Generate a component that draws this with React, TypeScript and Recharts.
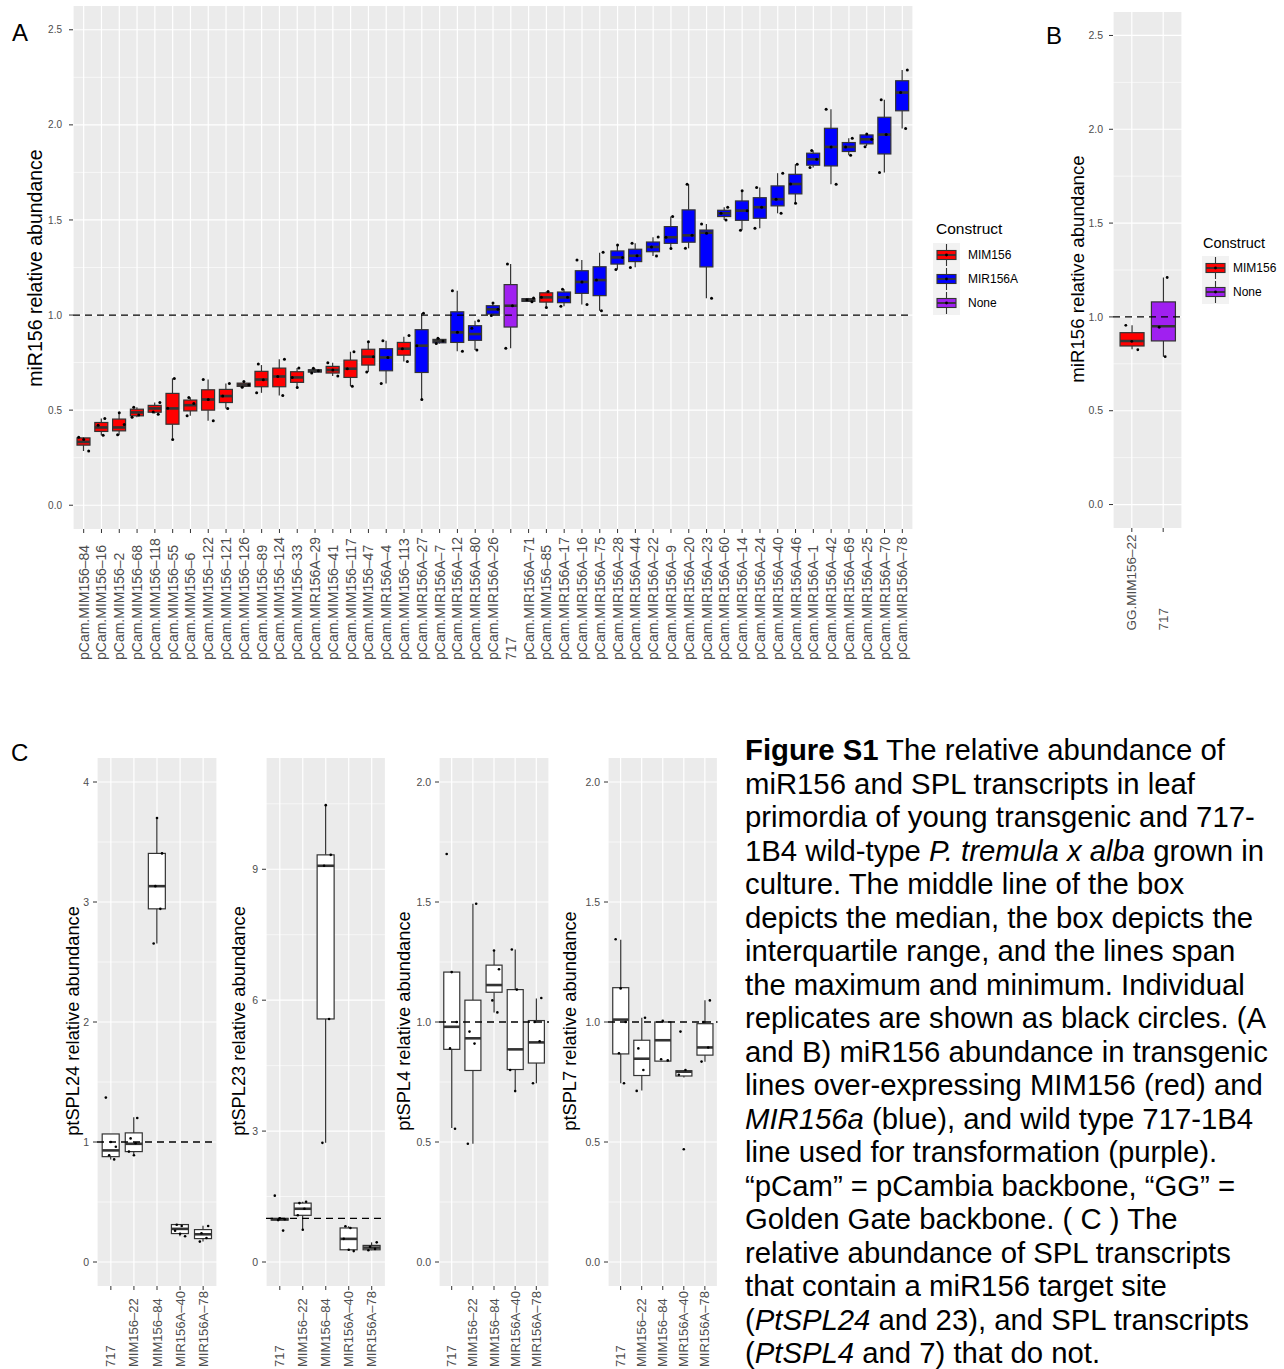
import React from 'react';
import { ComposedChart, Bar, Scatter, XAxis, YAxis, CartesianGrid, ReferenceLine } from 'recharts';

const FONT = '"Liberation Sans", Arial, Helvetica, sans-serif';

// ---------------- Panel A ----------------
const aNames = [
  'pCam.MIM156–84', 'pCam.MIM156–16', 'pCam.MIM156–2', 'pCam.MIM156–68', 'pCam.MIM156–118',
  'pCam.MIM156–55', 'pCam.MIM156–6', 'pCam.MIM156–122', 'pCam.MIM156–121', 'pCam.MIM156–126',
  'pCam.MIM156–89', 'pCam.MIM156–124', 'pCam.MIM156–33', 'pCam.MIR156A–29', 'pCam.MIM156–41',
  'pCam.MIM156–117', 'pCam.MIM156–47', 'pCam.MIR156A–4', 'pCam.MIM156–113', 'pCam.MIR156A–27',
  'pCam.MIR156A–7', 'pCam.MIR156A–12', 'pCam.MIR156A–80', 'pCam.MIR156A–26', '717',
  'pCam.MIR156A–71', 'pCam.MIM156–85', 'pCam.MIR156A–17', 'pCam.MIR156A–16', 'pCam.MIR156A–75',
  'pCam.MIR156A–28', 'pCam.MIR156A–44', 'pCam.MIR156A–22', 'pCam.MIR156A–9', 'pCam.MIR156A–20',
  'pCam.MIR156A–23', 'pCam.MIR156A–60', 'pCam.MIR156A–14', 'pCam.MIR156A–24', 'pCam.MIR156A–40',
  'pCam.MIR156A–46', 'pCam.MIR156A–1', 'pCam.MIR156A–42', 'pCam.MIR156A–69', 'pCam.MIR156A–25',
  'pCam.MIR156A–70', 'pCam.MIR156A–78',
];
const aGroups = [
  'MIM156', 'MIM156', 'MIM156', 'MIM156', 'MIM156', 'MIM156', 'MIM156', 'MIM156', 'MIM156', 'MIM156',
  'MIM156', 'MIM156', 'MIM156', 'MIR156A', 'MIM156', 'MIM156', 'MIM156', 'MIR156A', 'MIM156', 'MIR156A',
  'MIR156A', 'MIR156A', 'MIR156A', 'MIR156A', 'None', 'MIR156A', 'MIM156', 'MIR156A', 'MIR156A', 'MIR156A',
  'MIR156A', 'MIR156A', 'MIR156A', 'MIR156A', 'MIR156A', 'MIR156A', 'MIR156A', 'MIR156A', 'MIR156A', 'MIR156A',
  'MIR156A', 'MIR156A', 'MIR156A', 'MIR156A', 'MIR156A', 'MIR156A', 'MIR156A',
];
const aLow = [
  0.285, 0.368, 0.368, 0.462, 0.482, 0.351, 0.47, 0.444, 0.509, 0.62,
  0.591, 0.577, 0.619, 0.695, 0.68, 0.626, 0.70, 0.64, 0.756, 0.556,
  0.85, 0.81, 0.816, 0.998, 0.825, 1.07, 1.04, 1.046, 1.056, 1.023,
  1.24, 1.251, 1.31, 1.351, 1.351, 1.088, 1.5, 1.446, 1.456, 1.535,
  1.588, 1.776, 1.688, 1.84, 1.889, 1.749, 1.981,
];
const aQ1 = [
  0.316, 0.388, 0.391, 0.47, 0.489, 0.426, 0.496, 0.5, 0.54, 0.625,
  0.623, 0.623, 0.646, 0.70, 0.695, 0.672, 0.737, 0.707, 0.789, 0.698,
  0.854, 0.856, 0.867, 1.005, 0.937, 1.072, 1.068, 1.065, 1.114, 1.102,
  1.268, 1.281, 1.333, 1.377, 1.383, 1.253, 1.518, 1.498, 1.509, 1.574,
  1.637, 1.788, 1.784, 1.86, 1.90, 1.847, 2.074,
];
const aMed = [
  0.333, 0.409, 0.409, 0.488, 0.509, 0.509, 0.526, 0.556, 0.574, 0.634,
  0.661, 0.677, 0.672, 0.707, 0.711, 0.718, 0.781, 0.777, 0.823, 0.839,
  0.863, 0.909, 0.90, 1.03, 1.049, 1.08, 1.093, 1.093, 1.174, 1.184,
  1.303, 1.312, 1.358, 1.409, 1.419, 1.433, 1.535, 1.549, 1.567, 1.609,
  1.689, 1.819, 1.884, 1.884, 1.924, 1.949, 2.17,
];
const aQ3 = [
  0.354, 0.435, 0.453, 0.505, 0.525, 0.588, 0.553, 0.607, 0.609, 0.642,
  0.704, 0.721, 0.702, 0.712, 0.73, 0.763, 0.82, 0.823, 0.856, 0.923,
  0.872, 1.017, 0.944, 1.049, 1.16, 1.086, 1.117, 1.121, 1.233, 1.254,
  1.337, 1.346, 1.384, 1.465, 1.553, 1.447, 1.551, 1.60, 1.617, 1.679,
  1.74, 1.851, 1.982, 1.907, 1.947, 2.04, 2.232,
];
const aHigh = [
  0.358, 0.456, 0.486, 0.515, 0.54, 0.667, 0.567, 0.661, 0.64, 0.65,
  0.737, 0.768, 0.722, 0.72, 0.749, 0.807, 0.86, 0.865, 0.886, 1.009,
  0.878, 1.128, 0.97, 1.063, 1.268, 1.09, 1.124, 1.135, 1.289, 1.328,
  1.368, 1.377, 1.409, 1.518, 1.688, 1.479, 1.567, 1.653, 1.67, 1.746,
  1.793, 1.865, 2.082, 1.93, 1.952, 2.132, 2.289,
];
const aPoints = [
  [0.358, 0.345, 0.285], [0.456, 0.42, 0.368], [0.486, 0.425, 0.37], [0.515, 0.475, 0.462], [0.54, 0.49, 0.478],
  [0.667, 0.51, 0.345], [0.567, 0.535, 0.47], [0.661, 0.556, 0.444], [0.64, 0.574, 0.509], [0.65, 0.634, 0.62],
  [0.742, 0.66, 0.591], [0.768, 0.677, 0.577], [0.722, 0.672, 0.619], [0.72, 0.707, 0.695], [0.749, 0.711, 0.68],
  [0.807, 0.718, 0.626], [0.86, 0.781, 0.70], [0.865, 0.777, 0.64], [0.893, 0.823, 0.756], [1.009, 0.839, 0.556],
  [0.878, 0.863, 0.85], [1.128, 0.909, 0.81], [0.97, 0.93, 0.816], [1.063, 1.03, 0.998], [1.268, 1.049, 0.825],
  [1.09, 1.08, 1.07], [1.124, 1.093, 1.04], [1.135, 1.093, 1.046], [1.289, 1.174, 1.056], [1.33, 1.184, 1.023],
  [1.368, 1.303, 1.24], [1.377, 1.312, 1.25], [1.41, 1.358, 1.31], [1.518, 1.409, 1.35], [1.688, 1.419, 1.351],
  [1.479, 1.43, 1.088], [1.567, 1.535, 1.5], [1.653, 1.549, 1.446], [1.67, 1.567, 1.456], [1.746, 1.609, 1.535],
  [1.793, 1.689, 1.588], [1.865, 1.819, 1.776], [2.082, 1.884, 1.688], [1.93, 1.884, 1.84], [1.952, 1.924, 1.885],
  [2.132, 1.949, 1.749], [2.289, 2.17, 1.981],
];

// ---------------- Panel B ----------------
const bNames = ['GG.MIM156–22', '717'];
const bGroups = ['MIM156', 'None'];
const bLow = [0.827, 0.788];
const bQ1 = [0.845, 0.872];
const bMed = [0.872, 0.95];
const bQ3 = [0.916, 1.08];
const bHigh = [0.955, 1.21];
const bPoints = [[0.955, 0.87, 0.825], [1.21, 0.945, 0.788]];

// ---------------- Panel C ----------------
const cNames = ['717', 'MIM156–22', 'MIM156–84', 'MIR156A–40', 'MIR156A–78'];
const cGroups = ['SPL', 'SPL', 'SPL', 'SPL', 'SPL'];

const spl24Low = [0.855, 0.898, 2.654, 0.215, 0.17];
const spl24Q1 = [0.878, 0.92, 2.943, 0.237, 0.195];
const spl24Med = [0.93, 0.985, 3.132, 0.276, 0.231];
const spl24Q3 = [1.067, 1.076, 3.405, 0.312, 0.27];
const spl24High = [1.067, 1.206, 3.7, 0.315, 0.302];
const spl24Points = [
  [1.37, 1.0, 0.96, 0.89, 0.855], [1.2, 1.03, 0.99, 0.92, 0.89], [3.7, 3.405, 3.132, 2.943, 2.654],
  [0.31, 0.3, 0.26, 0.235, 0.215], [0.3, 0.24, 0.2, 0.17],
];

const spl23Low = [0.955, 0.74, 2.73, 0.25, 0.27];
const spl23Q1 = [0.96, 1.07, 5.57, 0.28, 0.28];
const spl23Med = [0.98, 1.22, 9.08, 0.53, 0.33];
const spl23Q3 = [1.0, 1.35, 9.33, 0.78, 0.38];
const spl23High = [1.005, 1.38, 10.47, 0.82, 0.45];
const spl23Points = [
  [1.52, 1.0, 0.98, 0.96, 0.72], [1.38, 1.35, 1.22, 1.07, 0.74], [10.47, 9.33, 9.08, 5.57, 2.73],
  [0.82, 0.78, 0.53, 0.28, 0.25], [0.45, 0.35, 0.3, 0.27],
];

const spl4Low = [0.558, 0.493, 1.04, 0.712, 0.745];
const spl4Q1 = [0.886, 0.798, 1.124, 0.802, 0.829];
const spl4Med = [0.98, 0.932, 1.154, 0.886, 0.915];
const spl4Q3 = [1.208, 1.091, 1.237, 1.135, 1.006];
const spl4High = [1.208, 1.493, 1.298, 1.302, 1.098];
const spl4Points = [
  [1.70, 1.208, 1.0, 0.89, 0.555], [1.493, 0.96, 0.91, 0.493], [1.298, 1.22, 1.09, 1.04],
  [1.302, 1.135, 0.80, 0.712], [1.1, 1.0, 0.92, 0.745],
];

const spl7Low = [0.745, 0.715, 0.837, 0.769, 0.834];
const spl7Q1 = [0.867, 0.777, 0.837, 0.775, 0.862];
const spl7Med = [1.01, 0.847, 0.924, 0.793, 0.894];
const spl7Q3 = [1.143, 0.924, 1.0, 0.797, 0.993];
const spl7High = [1.343, 1.018, 1.005, 0.80, 1.091];
const spl7Points = [
  [1.345, 1.14, 1.0, 0.87, 0.745], [1.018, 0.89, 0.80, 0.713], [1.005, 0.84, 0.845],
  [0.96, 0.80, 0.78, 0.47], [1.09, 1.0, 0.894, 0.835],
];

const abMajor = [0, 0.5, 1, 1.5, 2, 2.5];
const abMinor = [0.25, 0.75, 1.25, 1.75, 2.25];
const c24Major = [0, 1, 2, 3, 4];
const c24Minor = [0.5, 1.5, 2.5, 3.5];
const c23Major = [0, 3, 6, 9];
const c23Minor = [1.5, 4.5, 7.5, 10.5];
const c47Major = [0, 0.5, 1, 1.5, 2];
const c47Minor = [0.25, 0.75, 1.25, 1.75];

const COLORS: Record<string, string> = {
  MIM156: '#FF0000',
  MIR156A: '#0000FF',
  None: '#A020F0',
  SPL: '#FFFFFF',
};

function buildRows(names: string[], groups: string[], low: number[], q1: number[], med: number[], q3: number[], high: number[], points: number[][]) {
  return names.map((name, i) => {
    const row: any = { name, idx: i, group: groups[i], low: low[i], q1: q1[i], med: med[i], q3: q3[i], high: high[i] };
    for (let k = 0; k < 5; k++) row[`p${k}`] = points[i][k];
    return row;
  });
}

const aRows = buildRows(aNames, aGroups, aLow, aQ1, aMed, aQ3, aHigh, aPoints);
const bRows = buildRows(bNames, bGroups, bLow, bQ1, bMed, bQ3, bHigh, bPoints);
const c24Rows = buildRows(cNames, cGroups, spl24Low, spl24Q1, spl24Med, spl24Q3, spl24High, spl24Points);
const c23Rows = buildRows(cNames, cGroups, spl23Low, spl23Q1, spl23Med, spl23Q3, spl23High, spl23Points);
const c4Rows = buildRows(cNames, cGroups, spl4Low, spl4Q1, spl4Med, spl4Q3, spl4High, spl4Points);
const c7Rows = buildRows(cNames, cGroups, spl7Low, spl7Q1, spl7Med, spl7Q3, spl7High, spl7Points);

function BoxShape(props: any) {
  const { x, y, width, height, payload } = props;
  if (!payload || !Number.isFinite(x) || !Number.isFinite(y) || !Number.isFinite(height)) return <g />;
  const top = Math.min(y, y + height);
  const bot = Math.max(y, y + height);
  const span = payload.high - payload.low;
  const k = span > 0 ? (bot - top) / span : 0;
  const py = (v: number) => bot - (v - payload.low) * k;
  const cx = x + width / 2;
  const fill = COLORS[payload.group] || '#FFFFFF';
  const edge = '#333333';
  return (
    <g>
      <line x1={cx} x2={cx} y1={py(payload.high)} y2={py(payload.q3)} stroke={edge} strokeWidth={1.2} />
      <line x1={cx} x2={cx} y1={py(payload.q1)} y2={py(payload.low)} stroke={edge} strokeWidth={1.2} />
      <rect x={x} y={py(payload.q3)} width={width} height={Math.max(py(payload.q1) - py(payload.q3), 0.5)} fill={fill} stroke={edge} strokeWidth={1.2} />
      <line x1={x} x2={x + width} y1={py(payload.med)} y2={py(payload.med)} stroke={edge} strokeWidth={2.6} />
    </g>
  );
}

function Dot(props: any) {
  const { cx, cy, payload, k, r, jitterPx } = props;
  if (!payload || payload[`p${k}`] == null || !Number.isFinite(cx) || !Number.isFinite(cy)) return <g />;
  const j = (((payload.idx * 5 + k * 3) % 7) - 3) / 3;
  return <circle cx={cx + j * jitterPx} cy={cy} r={r} fill="#000000" />;
}

function XTick(props: any) {
  const { x, payload, labelY, fontSize } = props;
  return (
    <text x={x} y={labelY} transform={`rotate(-90 ${x} ${labelY})`} textAnchor="start" dominantBaseline="central"
      fontSize={fontSize} fill="#4D4D4D" fontFamily={FONT}>
      {payload.value}
    </text>
  );
}

type PanelProps = {
  px: number; py: number; pw: number; ph: number;
  domain: [number, number]; majors: number[]; minors: number[]; digits: number;
  rows: any[]; labelStart: number; labelFont: number; tickFont: number; tickGap: number; dotR: number; jitterPx: number;
};

function BoxPanel(p: PanelProps) {
  const yw = 44, mt = 5, mr = 5;
  const xh = p.labelStart - (p.py + p.ph) + 6;
  const left = p.px - yw;
  const top = p.py - mt;
  const W = yw + p.pw + mr;
  const H = mt + p.ph + xh;
  const pad = (p.pw / (p.rows.length + 0.2)) * 0.1;
  const labelY = p.labelStart - top;
  return (
    <div style={{ position: 'absolute', left, top, width: W, height: H }}>
      <ComposedChart width={W} height={H} data={p.rows} margin={{ top: mt, right: mr, bottom: 0, left: 0 }} barCategoryGap="12.5%">
        <CartesianGrid fill="#EBEBEB" fillOpacity={1} stroke="#FFFFFF" strokeWidth={0.6} vertical={false} horizontalValues={p.minors} />
        <CartesianGrid stroke="#FFFFFF" strokeWidth={1.2} horizontalValues={p.majors} />
        <XAxis dataKey="name" type="category" interval={0} height={xh} padding={{ left: pad, right: pad }}
          axisLine={false} tickSize={4} tickLine={{ stroke: '#333333' }}
          tick={(tp: any) => <XTick {...tp} labelY={labelY} fontSize={p.labelFont} />} />
        <YAxis type="number" domain={p.domain} ticks={p.majors} interval={0} allowDataOverflow width={yw}
          axisLine={false} tickSize={4} tickMargin={p.tickGap} tickLine={{ stroke: '#333333' }}
          tick={{ fontSize: p.tickFont, fill: '#4D4D4D', fontFamily: FONT }}
          tickFormatter={(v: number) => v.toFixed(p.digits)} />
        <Bar dataKey={(d: any) => [d.low, d.high]} shape={BoxShape} isAnimationActive={false} />
        {[0, 1, 2, 3, 4].map((k) => (
          <Scatter key={k} dataKey={`p${k}`} isAnimationActive={false}
            shape={(sp: any) => <Dot {...sp} k={k} r={p.dotR} jitterPx={p.jitterPx} />} />
        ))}
        <ReferenceLine y={1} stroke="#000000" strokeWidth={1.3} strokeDasharray="7 5" zIndex={1000} />
      </ComposedChart>
    </div>
  );
}

function LegendKey({ x, y, color }: { x: number; y: number; color: string }) {
  const cx = x + 13.5;
  return (
    <g>
      <rect x={x} y={y} width={27} height={24} fill="#F2F2F2" />
      <line x1={cx} x2={cx} y1={y + 1} y2={y + 23} stroke="#333333" strokeWidth={1.1} />
      <rect x={x + 4} y={y + 7.5} width={19} height={9} fill={color} stroke="#333333" strokeWidth={1.1} />
      <line x1={x + 4} x2={x + 23} y1={y + 12} y2={y + 12} stroke="#333333" strokeWidth={1.8} />
      <circle cx={cx} cy={y + 12} r={1.4} fill="#000000" />
    </g>
  );
}

const captionLines: Array<Array<[string, string]>> = [
  [['Figure S1', 'b'], [' The relative abundance of', 'n']],
  [['miR156 and SPL transcripts in leaf', 'n']],
  [['primordia of young transgenic and 717-', 'n']],
  [['1B4 wild-type ', 'n'], ['P. tremula x alba', 'i'], [' grown in', 'n']],
  [['culture. The middle line of the box', 'n']],
  [['depicts the median, the box depicts the', 'n']],
  [['interquartile range, and the lines span', 'n']],
  [['the maximum and minimum. Individual', 'n']],
  [['replicates are shown as black circles. (A', 'n']],
  [['and B) miR156 abundance in transgenic', 'n']],
  [['lines over-expressing MIM156 (red) and', 'n']],
  [['MIR156a', 'i'], [' (blue), and wild type 717-1B4', 'n']],
  [['line used for transformation (purple).', 'n']],
  [['\u201CpCam\u201D = pCambia backbone, \u201CGG\u201D =', 'n']],
  [['Golden Gate backbone. ( C ) The', 'n']],
  [['relative abundance of SPL transcripts', 'n']],
  [['that contain a miR156 target site', 'n']],
  [['(', 'n'], ['PtSPL24', 'i'], [' and 23), and SPL transcripts', 'n']],
  [['(', 'n'], ['PtSPL4', 'i'], [' and 7) that do not.', 'n']],
];

function YTitle({ x, y, size, text }: { x: number; y: number; size: number; text: string }) {
  return (
    <text x={x} y={y} transform={`rotate(-90 ${x} ${y})`} textAnchor="middle" dominantBaseline="central"
      fontSize={size} fill="#000000" fontFamily={FONT}>{text}</text>
  );
}

export default function App() {
  return (
    <div style={{ position: 'absolute', left: 0, top: 0, width: 1284, height: 1369, overflow: 'hidden', background: '#FFFFFF', fontFamily: FONT }}>
      <BoxPanel px={73} py={6} pw={840} ph={523} domain={[-0.125, 2.625]} majors={abMajor} minors={abMinor} digits={1}
        rows={aRows} labelStart={660} labelFont={14} tickFont={10} tickGap={7} dotR={1.5} jitterPx={5} />
      <BoxPanel px={1113} py={11.5} pw={69} ph={516} domain={[-0.125, 2.625]} majors={abMajor} minors={abMinor} digits={1}
        rows={bRows} labelStart={630} labelFont={13.5} tickFont={10.5} tickGap={6} dotR={1.4} jitterPx={6} />
      <BoxPanel px={97} py={758} pw={120} ph={528} domain={[-0.2, 4.2]} majors={c24Major} minors={c24Minor} digits={0}
        rows={c24Rows} labelStart={1367} labelFont={13} tickFont={10.5} tickGap={4} dotR={1.3} jitterPx={5} />
      <BoxPanel px={266} py={758} pw={119.5} ph={528} domain={[-0.55, 11.55]} majors={c23Major} minors={c23Minor} digits={0}
        rows={c23Rows} labelStart={1367} labelFont={13} tickFont={10.5} tickGap={4} dotR={1.3} jitterPx={5} />
      <BoxPanel px={439} py={758} pw={110} ph={528} domain={[-0.1, 2.1]} majors={c47Major} minors={c47Minor} digits={1}
        rows={c4Rows} labelStart={1367} labelFont={13} tickFont={10.5} tickGap={4} dotR={1.3} jitterPx={5} />
      <BoxPanel px={608} py={758} pw={109.5} ph={528} domain={[-0.1, 2.1]} majors={c47Major} minors={c47Minor} digits={1}
        rows={c7Rows} labelStart={1367} labelFont={13} tickFont={10.5} tickGap={4} dotR={1.3} jitterPx={5} />

      <svg width={1284} height={1369} style={{ position: 'absolute', left: 0, top: 0, pointerEvents: 'none' }}>
        <text x={12} y={41} fontSize={24} fontFamily={FONT} fill="#000">A</text>
        <text x={1046} y={44} fontSize={24} fontFamily={FONT} fill="#000">B</text>
        <text x={11} y={761} fontSize={24} fontFamily={FONT} fill="#000">C</text>

        <YTitle x={35} y={268} size={19.5} text="miR156 relative abundance" />
        <YTitle x={1077} y={269} size={18.7} text="miR156 relative abundance" />
        <YTitle x={72} y={1021} size={18.3} text="ptSPL24 relative abundance" />
        <YTitle x={238} y={1021} size={18.3} text="ptSPL23 relative abundance" />
        <YTitle x={403} y={1021} size={18.3} text="ptSPL4 relative abundance" />
        <YTitle x={569} y={1021} size={18.3} text="ptSPL7 relative abundance" />

        <text x={936} y={234} fontSize={15.5} fontFamily={FONT} fill="#000">Construct</text>
        <LegendKey x={933} y={243} color={COLORS.MIM156} />
        <LegendKey x={933} y={267} color={COLORS.MIR156A} />
        <LegendKey x={933} y={291} color={COLORS.None} />
        <text x={968} y={255} fontSize={12} fontFamily={FONT} fill="#000" dominantBaseline="central">MIM156</text>
        <text x={968} y={279} fontSize={12} fontFamily={FONT} fill="#000" dominantBaseline="central">MIR156A</text>
        <text x={968} y={303} fontSize={12} fontFamily={FONT} fill="#000" dominantBaseline="central">None</text>

        <text x={1203} y={248} fontSize={14.5} fontFamily={FONT} fill="#000">Construct</text>
        <LegendKey x={1202} y={256} color={COLORS.MIM156} />
        <LegendKey x={1202} y={280} color={COLORS.None} />
        <text x={1233} y={268} fontSize={12} fontFamily={FONT} fill="#000" dominantBaseline="central">MIM156</text>
        <text x={1233} y={292} fontSize={12} fontFamily={FONT} fill="#000" dominantBaseline="central">None</text>
      </svg>

      <div style={{ position: 'absolute', left: 745, top: 733, fontSize: 29.3, lineHeight: '33.5px', color: '#000', fontFamily: FONT, whiteSpace: 'nowrap' }}>
        {captionLines.map((line, i) => (
          <div key={i}>
            {line.map(([t, s], j) => (
              <span key={j} style={{ fontWeight: s === 'b' ? 'bold' : 'normal', fontStyle: s === 'i' ? 'italic' : 'normal' }}>{t}</span>
            ))}
          </div>
        ))}
      </div>
    </div>
  );
}
